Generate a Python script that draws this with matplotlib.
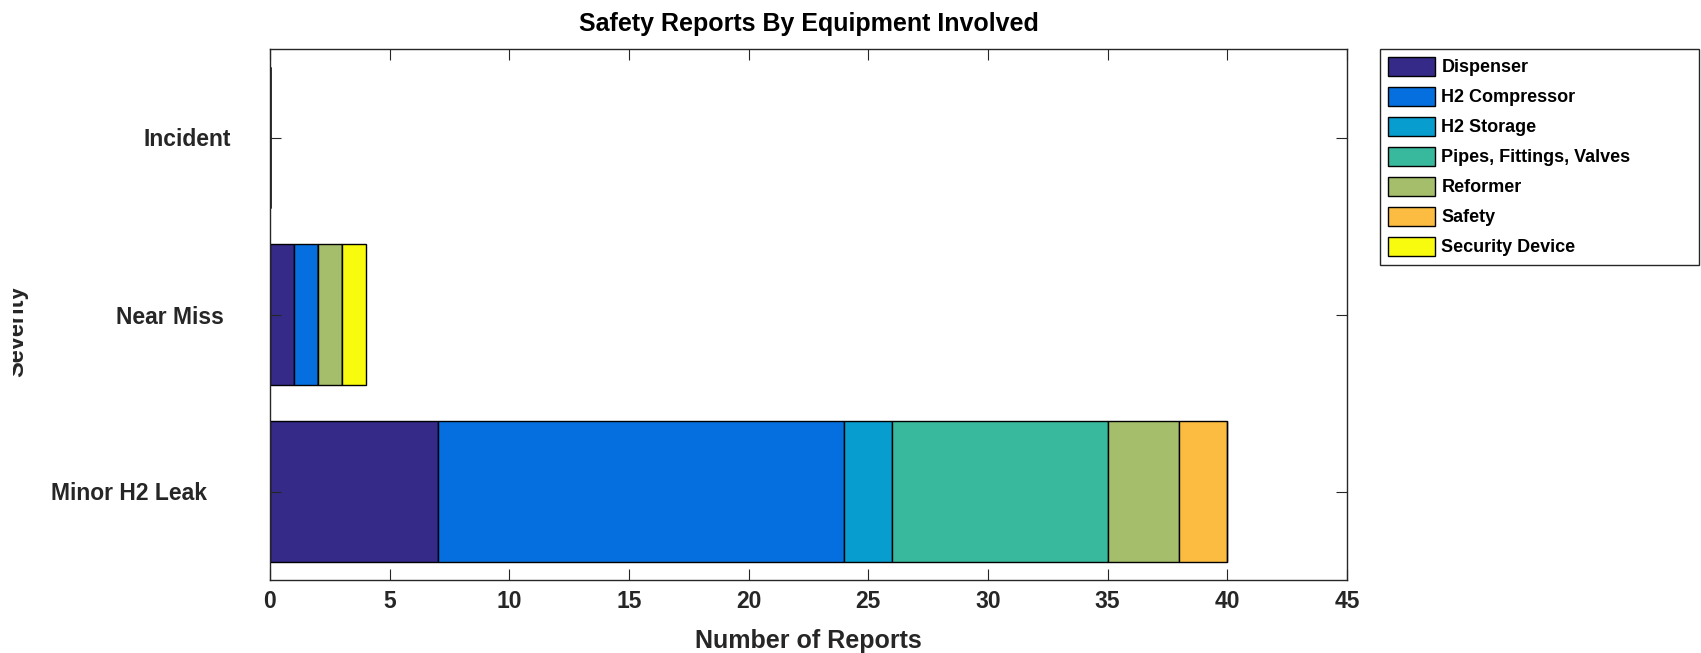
import matplotlib
matplotlib.use("Agg")
import matplotlib.pyplot as plt
from matplotlib.transforms import ScaledTranslation, Bbox, TransformedBbox, IdentityTransform
import numpy as np

plt.rcParams['font.family'] = ['Liberation Sans', 'DejaVu Sans']

categories = ["Minor H2 Leak", "Near Miss", "Incident"]
equipment = ["Dispenser", "H2 Compressor", "H2 Storage", "Pipes, Fittings, Valves",
             "Reformer", "Safety", "Security Device"]
# values per equipment for [Minor H2 Leak, Near Miss, Incident]
dispenser = [7, 1, 0]
h2_compressor = [17, 1, 0]
h2_storage = [2, 0, 0]
pipes = [9, 0, 0]
reformer = [3, 1, 0]
safety = [2, 0, 0]
security_device = [0, 1, 0]
series = [dispenser, h2_compressor, h2_storage, pipes, reformer, safety, security_device]
colors = ["#352a87", "#066fdf", "#079dcf", "#38b99d", "#a5be6b", "#fbbc41", "#f9fb0e"]

fig = plt.figure(figsize=(17.01, 6.53), dpi=100)
ax = fig.add_axes([270/1701, 1-580/653, (1347-270)/1701, (580-49)/653])

ypos = np.arange(1, len(categories) + 1)
left = np.zeros(len(categories))
for name, vals, c in zip(equipment, series, colors):
    vals = np.array(vals, dtype=float)
    ax.barh(ypos, vals, left=left, height=0.8, color=c, edgecolor='black',
            linewidth=1.0, label=name)
    left += vals

ax.set_xlim(0, 45)
ax.set_ylim(0.5, 3.5)
ax.set_xticks(np.arange(0, 46, 5))
ax.set_yticks(ypos)
ax.set_yticklabels(categories)

txtc = '#262626'
for s in ax.spines.values():
    s.set_color(txtc)
    s.set_linewidth(1.0)
ax.tick_params(direction='in', length=8, width=0.8, color=txtc, top=True, right=True,
               labelsize=16.5, labelcolor=txtc)
ax.tick_params(axis='y', pad=28)
ax.tick_params(axis='x', pad=7)
for lbl in ax.get_xticklabels() + ax.get_yticklabels():
    lbl.set_fontweight('bold')
# MATLAB-like uneven label offsets
offsets_px = [24, 7.6, 0]
for lbl, off in zip(ax.get_yticklabels(), offsets_px):
    lbl.set_transform(lbl.get_transform() + ScaledTranslation(-off/100, 0, fig.dpi_scale_trans))

ax.set_xlabel("Number of Reports", fontsize=18, fontweight='bold', color=txtc, labelpad=12)
ylab = ax.set_ylabel("Severity", fontsize=17, fontweight='bold', color=txtc)
ax.yaxis.set_label_coords((28-270)/1077, (580-331.5)/531)
# the reference shows this label clipped at its left side
ylab.set_clip_on(True)
ylab.set_clip_box(TransformedBbox(Bbox([[13, 0], [1701, 653]]), IdentityTransform()))

ax.set_title("Safety Reports By Equipment Involved", fontsize=18, fontweight='bold',
             color='black', pad=13)

lx0 = 1380/1701
ly1 = 1 - 49/653
lw = (1699-1380)/1701
lh = (264-49)/653
leg = fig.legend(loc='upper left', bbox_to_anchor=(lx0, ly1-lh, lw, lh), mode='expand',
                 prop={'weight': 'bold', 'size': 13},
                 handlelength=2.6, handleheight=1.2, handletextpad=0.35,
                 labelspacing=0.59, borderpad=0.45, borderaxespad=0.0,
                 fancybox=False, framealpha=1, edgecolor=txtc)
leg.get_frame().set_linewidth(1.0)

fig.savefig("out.png", dpi=100)
